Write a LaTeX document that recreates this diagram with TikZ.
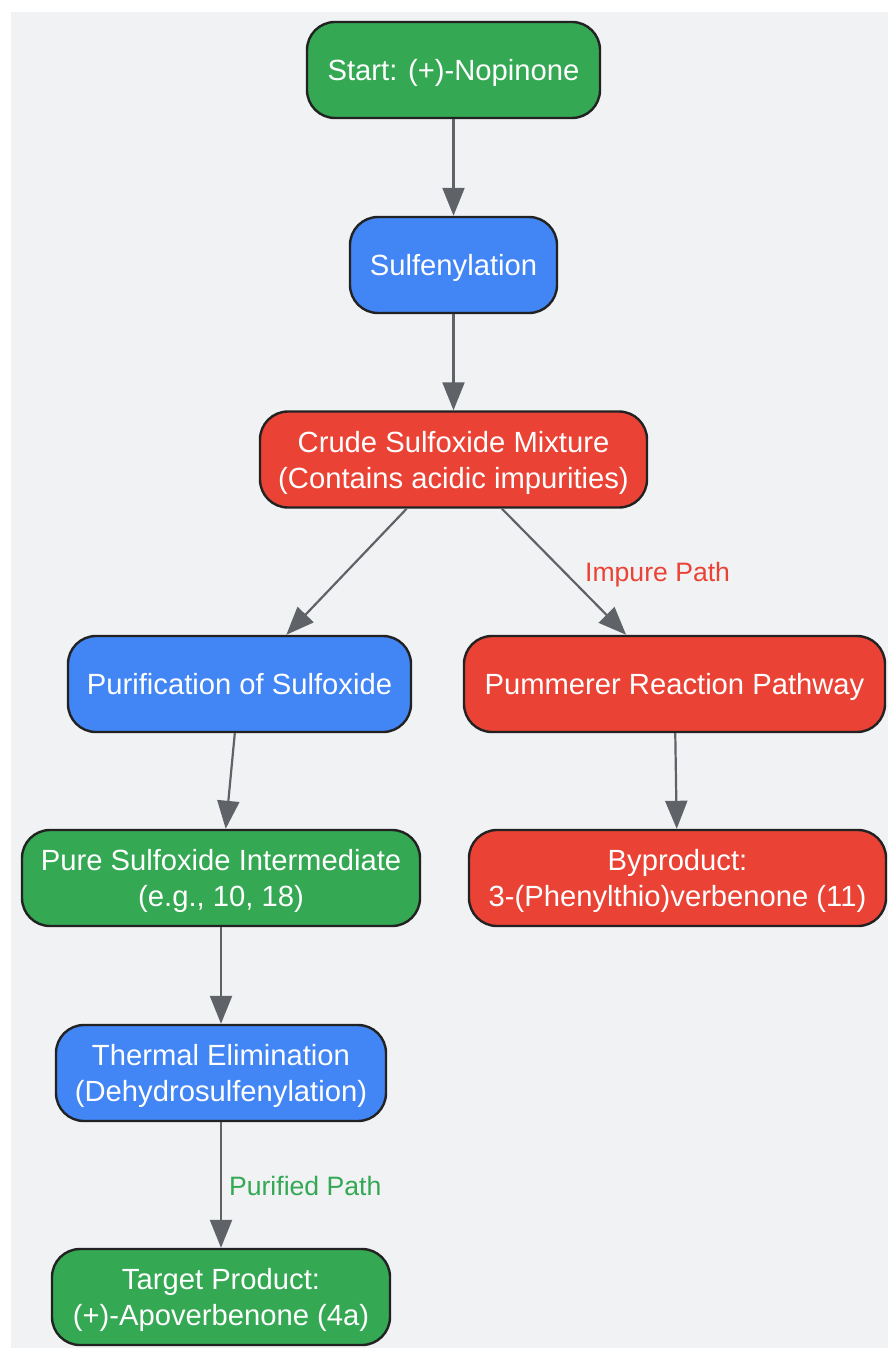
\documentclass[tikz,border=0pt]{standalone}
\usepackage{fontspec}
\setmainfont{Liberation Sans}
\usetikzlibrary{arrows.meta}
\definecolor{okgreen}{HTML}{34A853}
\definecolor{stepblue}{HTML}{4285F4}
\definecolor{badred}{HTML}{EA4335}
\definecolor{edgegray}{HTML}{5F6368}
\definecolor{bggray}{HTML}{F1F2F4}
\definecolor{outline}{HTML}{222222}
\begin{document}
\begin{tikzpicture}[x=0.5pt,y=-0.5pt,
    box/.style={draw=outline,line width=1.2pt,rounded corners=14pt,text=white,align=center,
        minimum height=48pt,inner sep=0pt,text depth=0pt,font=\fontsize{14.6}{18}\selectfont},
    greenbox/.style={box,fill=okgreen},
    bluebox/.style={box,fill=stepblue},
    redbox/.style={box,fill=badred},
    flow/.style={draw=edgegray,line width=1.1pt,-{Triangle[length=14pt,width=11pt]}},
    pathlabel/.style={inner sep=0pt,font=\fontsize{13.3}{16}\selectfont}]
    \useasboundingbox (0,0) rectangle (888,1348);
    \fill[bggray] (11,12) rectangle (888,1348);

    \node[greenbox,minimum width=146.5pt] (start) at (453.5,70) {Start: (+)-Nopinone};
    \node[bluebox,minimum width=103.5pt] (sulf) at (453.5,265) {Sulfenylation};
    \node[redbox,minimum width=193.5pt] (crude) at (453.5,459.5) {Crude Sulfoxide Mixture\\(Contains acidic impurities)};
    \node[bluebox,minimum width=171.5pt] (purif) at (239.5,684) {Purification of Sulfoxide};
    \node[redbox,minimum width=210.5pt] (pumm) at (674.5,684) {Pummerer Reaction Pathway};
    \node[greenbox,minimum width=199pt] (pure) at (221,878) {Pure Sulfoxide Intermediate\\(e.g., 10, 18)};
    \node[redbox,minimum width=208.5pt] (byprod) at (677.5,878) {Byproduct:\\3-(Phenylthio)verbenone (11)};
    \node[bluebox,minimum width=165pt] (elim) at (221,1073) {Thermal Elimination\\(Dehydrosulfenylation)};
    \node[greenbox,minimum width=169pt] (target) at (221,1297) {Target Product:\\(+)-Apoverbenone (4a)};

    \draw[flow] (start) -- (sulf);
    \draw[flow] (sulf) -- (crude);
    \draw[flow] (crude) -- (purif);
    \draw[flow] (crude) -- (pumm) node[pathlabel,midway,right,xshift=10pt,yshift=-1.5pt,text=badred] {Impure Path};
    \draw[flow] (purif) -- (pure);
    \draw[flow] (pumm) -- (byprod);
    \draw[flow] (pure) -- (elim);
    \draw[flow] (elim) -- (target) node[pathlabel,midway,right,xshift=3.5pt,yshift=-0.5pt,text=okgreen] {Purified Path};
\end{tikzpicture}
\end{document}
